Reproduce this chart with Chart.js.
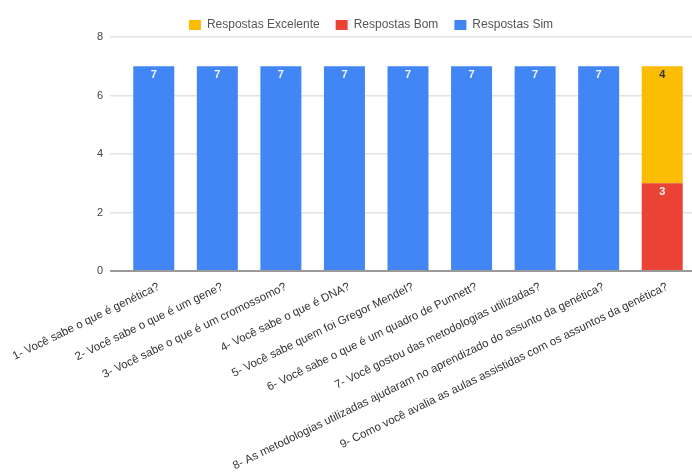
<!DOCTYPE html>
<html>
<head>
<meta charset="utf-8">
<script src="https://cdn.jsdelivr.net/npm/chart.js@4"></script>
<style>
  html, body { margin: 0; padding: 0; background: #fff; overflow: hidden; }
  #wrap { position: absolute; left: 0; top: 0; width: 742px; height: 475px; }
</style>
</head>
<body>
<div id="wrap"><canvas id="myChart"></canvas></div>
<script>
// perguntas do questionário (eixo x)
var perguntas = [
  '1- Você sabe o que é genética?',
  '2- Você sabe o que é um gene?',
  '3- Você sabe o que é um cromossomo?',
  '4- Você sabe o que é DNA?',
  '5- Você sabe quem foi Gregor Mendel?',
  '6- Você sabe o que é um quadro de Punnett?',
  '7- Você gostou das metodologias utilizadas?',
  '8- As metodologias utilizadas ajudaram no aprendizado do assunto da genética?',
  '9- Como você avalia as aulas assistidas com os assuntos da genética?'
];
var respostasSim = [7, 7, 7, 7, 7, 7, 7, 7, 0];
var respostasBom = [0, 0, 0, 0, 0, 0, 0, 0, 3];
var respostasExcelente = [0, 0, 0, 0, 0, 0, 0, 0, 4];
var yTicks = [0, 2, 4, 6, 8];

// escreve o valor dentro do topo de cada barra
var valueLabels = {
  id: 'valueLabels',
  afterDatasetsDraw: function(chart) {
    var ctx = chart.ctx;
    ctx.save();
    ctx.font = 'bold 11px "Liberation Sans", Arial, sans-serif';
    ctx.textAlign = 'center';
    ctx.textBaseline = 'middle';
    chart.data.datasets.forEach(function(ds, i) {
      var meta = chart.getDatasetMeta(i);
      meta.data.forEach(function(bar, j) {
        if (!ds.data[j]) return;
        ctx.fillStyle = ds.labelColor;
        ctx.fillText(ds.data[j], bar.x, bar.y + 9);
      });
    });
    ctx.restore();
  }
};

// legenda mais baixa que o padding pedido (padding largo só na horizontal)
var legendHeight = {
  id: 'legendHeight',
  beforeLayout: function(chart) {
    var lg = chart.legend;
    if (!lg || lg._fixedFit) return;
    var fit = lg.fit;
    lg.fit = function() { fit.call(this); this.height = 34; };
    lg._fixedFit = true;
  }
};

var ctx = document.getElementById('myChart').getContext('2d');
var myChart = new Chart(ctx, {
  type: 'bar',
  data: {
    labels: perguntas,
    datasets: [
      { label: 'Respostas Sim', data: respostasSim, backgroundColor: '#4285F4', labelColor: '#f4f4f4' },
      { label: 'Respostas Bom', data: respostasBom, backgroundColor: '#EA4335', labelColor: '#f4f4f4' },
      { label: 'Respostas Excelente', data: respostasExcelente, backgroundColor: '#FBBC04', labelColor: '#333333' }
    ]
  },
  options: {
    responsive: true,
    maintainAspectRatio: false,
    animation: false,
    layout: { padding: { top: 3, right: 0, left: 0, bottom: 0 } },
    datasets: { bar: { barPercentage: 1, categoryPercentage: 0.645 } },
    plugins: {
      legend: {
        reverse: true,
        labels: {
          boxWidth: 12, boxHeight: 10, padding: 16,
          color: '#555',
          font: { family: '"Liberation Sans", Arial, sans-serif', size: 12 }
        }
      },
      tooltip: { enabled: false }
    },
    scales: {
      x: {
        stacked: true,
        grid: { display: false },
        border: { display: false },
        ticks: {
          autoSkip: false, minRotation: 26, maxRotation: 26, padding: 1, labelOffset: 5,
          color: '#333',
          font: { family: '"Liberation Sans", Arial, sans-serif', size: 11.5 }
        },
        afterFit: function(scale) { scale.height = 204; }
      },
      y: {
        stacked: true,
        min: 0, max: 8,
        afterBuildTicks: function(scale) { scale.ticks = yTicks.map(function(v) { return { value: v }; }); },
        border: { display: false },
        grid: {
          tickLength: 12,
          color: function(c) { return c.tick && c.tick.value === 0 ? '#999' : '#e3e3e3'; },
          lineWidth: function(c) { return c.tick && c.tick.value === 0 ? 2 : 1.5; }
        },
        ticks: {
          padding: 7, color: '#444',
          font: { family: '"Liberation Sans", Arial, sans-serif', size: 11 }
        },
        afterFit: function(scale) { scale.width = 122; }
      },
      // eixo vazio à direita: só reserva espaço para centrar a legenda
      yRight: {
        position: 'right',
        min: 0, max: 8,
        grid: { display: false },
        border: { display: false },
        ticks: { display: false },
        afterFit: function(scale) { scale.width = 48; }
      }
    }
  },
  plugins: [valueLabels, legendHeight]
});
</script>
</body>
</html>
